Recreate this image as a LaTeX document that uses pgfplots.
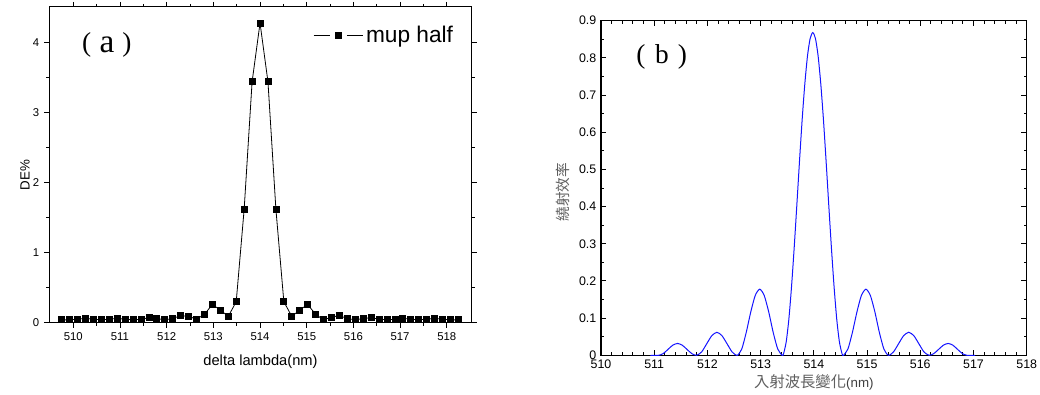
\documentclass[border=0pt]{standalone}
\usepackage{fontspec}
\setmainfont{Liberation Sans}
\newfontfamily\tms{Liberation Serif}
\newfontfamily\cjk{Noto Sans CJK TC}
\usepackage{pgfplots}
\pgfplotsset{compat=1.18}
\definecolor{curveblue}{RGB}{20,20,255}
\definecolor{labgray}{RGB}{95,95,95}
\begin{document}
\begin{tikzpicture}
\useasboundingbox (0pt,0pt) rectangle (780pt,295.5pt);
% ---------- panel (a)
\begin{axis}[
  at={(36.75pt,53.5pt)}, anchor=south west, scale only axis,
  width=317.25pt, height=236.8pt,
  xmin=509.48, xmax=518.54, ymin=0, ymax=4.51,
  xtick={510,511,...,518}, ytick={0,1,2,3,4},
  minor x tick num=1, minor y tick num=1,
  tick align=outside, major tick length=3.75pt, minor tick length=2.25pt,
  axis line style={line width=0.75pt},
  every tick/.append style={black, line width=0.6pt},
  /pgf/number format/assume math mode=true,
  ticklabel style={font=\fontsize{8.5}{10}\selectfont},
  xlabel={delta lambda(nm)},
  xlabel style={font=\fontsize{11}{13}\selectfont, at={(axis description cs:0.5,-0.1246)}, anchor=center},
  ylabel={DE\%},
  ylabel style={font=\fontsize{10}{12}\selectfont, at={(axis description cs:-0.0567,0.468)}, anchor=center},
  legend style={draw=none, fill=none, inner sep=0pt, at={(0.962,0.909)}, anchor=east,
    font=\fontsize{17}{19}\selectfont},
  legend image code/.code={
    \draw[#1,mark=none] (0pt,0pt) -- (12pt,0pt);
    \draw[#1,mark=none] (25pt,0pt) -- (37pt,0pt);
    \draw[#1] plot coordinates {(18.5pt,0pt)};
  },
]
\addplot[black, line width=0.6pt, mark=square*, mark size=2.25pt, mark options={solid}] coordinates {
(509.75,0.04) (509.92,0.04) (510.09,0.05) (510.26,0.06) (510.43,0.05) (510.60,0.04)
(510.77,0.05) (510.94,0.06) (511.11,0.05) (511.28,0.04) (511.45,0.05) (511.62,0.07)
(511.79,0.06) (511.96,0.04) (512.13,0.06) (512.30,0.10) (512.47,0.09) (512.64,0.05)
(512.81,0.12) (512.98,0.26) (513.15,0.18) (513.32,0.09) (513.49,0.30) (513.66,1.62)
(513.83,3.44) (514.00,4.28) (514.17,3.44) (514.34,1.62) (514.51,0.30) (514.68,0.09)
(514.85,0.18) (515.02,0.26) (515.19,0.12) (515.36,0.04) (515.53,0.08) (515.70,0.10)
(515.87,0.06) (516.04,0.04) (516.21,0.06) (516.38,0.07) (516.55,0.05) (516.72,0.04)
(516.89,0.05) (517.06,0.06) (517.23,0.05) (517.40,0.04) (517.57,0.05) (517.74,0.06)
(517.91,0.05) (518.08,0.04) (518.25,0.04)
};
\addlegendentry{mup half}
\end{axis}
% ---------- panel (b)
\begin{axis}[
  at={(450.75pt,29pt)}, anchor=south west, scale only axis,
  width=319.3pt, height=251pt,
  xmin=510, xmax=518, ymin=0, ymax=0.9,
  xtick={510,511,...,518}, ytick={0,0.1,0.2,0.3,0.4,0.5,0.6,0.7,0.8,0.9},
  minor x tick num=4, minor y tick num=1,
  tick align=inside, major tick length=4pt, minor tick length=2.4pt,
  axis line style={line width=1pt},
  every tick/.append style={black, line width=0.75pt},
  /pgf/number format/assume math mode=true,
  ticklabel style={font=\fontsize{9.3}{11}\selectfont},
  xlabel={{\cjk 入射波長變化}{\fontsize{10}{11}\selectfont\color{black!75}(nm)}},
  xlabel style={font=\fontsize{11.5}{13}\selectfont, text=labgray, at={(axis description cs:0.5,-0.0797)}, anchor=center},
  ylabel={\cjk 繞射效率},
  ylabel style={font=\fontsize{11}{13}\selectfont, text=labgray, at={(axis description cs:-0.0893,0.488)}, anchor=center},
]
\addplot[curveblue, line width=0.75pt, smooth, tension=0.4] coordinates {
(510.93,0) (511.08,0)
(511.169,0.0047) (511.259,0.016) (511.348,0.0273) (511.438,0.032) (511.527,0.0273) (511.616,0.016) (511.706,0.0047) (511.795,0)
(511.891,0.0091) (511.986,0.031) (512.082,0.0529) (512.178,0.062) (512.273,0.0529) (512.369,0.031) (512.464,0.0091) (512.560,0)
(512.645,0.017) (512.729,0.0615) (512.814,0.1165) (512.898,0.161) (512.983,0.178) (513.067,0.161) (513.152,0.1165) (513.236,0.0615) (513.321,0.017) (513.405,0)
(513.43,0.004) (513.48,0.036) (513.53,0.097) (513.58,0.184) (513.63,0.289) (513.68,0.404) (513.73,0.522) (513.78,0.634) (513.83,0.730) (513.88,0.805) (513.93,0.852) (513.98,0.868)
(514.03,0.852) (514.08,0.805) (514.13,0.730) (514.18,0.634) (514.23,0.522) (514.28,0.404) (514.33,0.289) (514.38,0.184) (514.43,0.097) (514.48,0.036) (514.53,0.004) (514.555,0)
(514.640,0.017) (514.724,0.0615) (514.809,0.1165) (514.893,0.161) (514.978,0.178) (515.062,0.161) (515.147,0.1165) (515.231,0.0615) (515.316,0.017) (515.400,0)
(515.496,0.0091) (515.591,0.031) (515.687,0.0529) (515.783,0.062) (515.878,0.0529) (515.974,0.031) (516.069,0.0091) (516.165,0)
(516.254,0.0047) (516.344,0.016) (516.433,0.0273) (516.523,0.032) (516.612,0.0273) (516.701,0.016) (516.791,0.0047) (516.880,0) (517.03,0)
};
\end{axis}
% ---------- panel tags
\node[anchor=base west, inner sep=0pt] at (61.3pt,256pt) {\tms{\fontsize{20.5}{21}\selectfont\raisebox{1.1pt}{(}}\hspace{6.4pt}{\fontsize{25}{25}\selectfont a}\hspace{5.9pt}{\fontsize{20.5}{21}\selectfont\raisebox{1.1pt}{)}}};
\node[anchor=base west, inner sep=0pt] at (477pt,248pt) {\tms\fontsize{20.5}{21}\selectfont (\hspace{7.4pt}b\hspace{6.7pt})};
\end{tikzpicture}
\end{document}
